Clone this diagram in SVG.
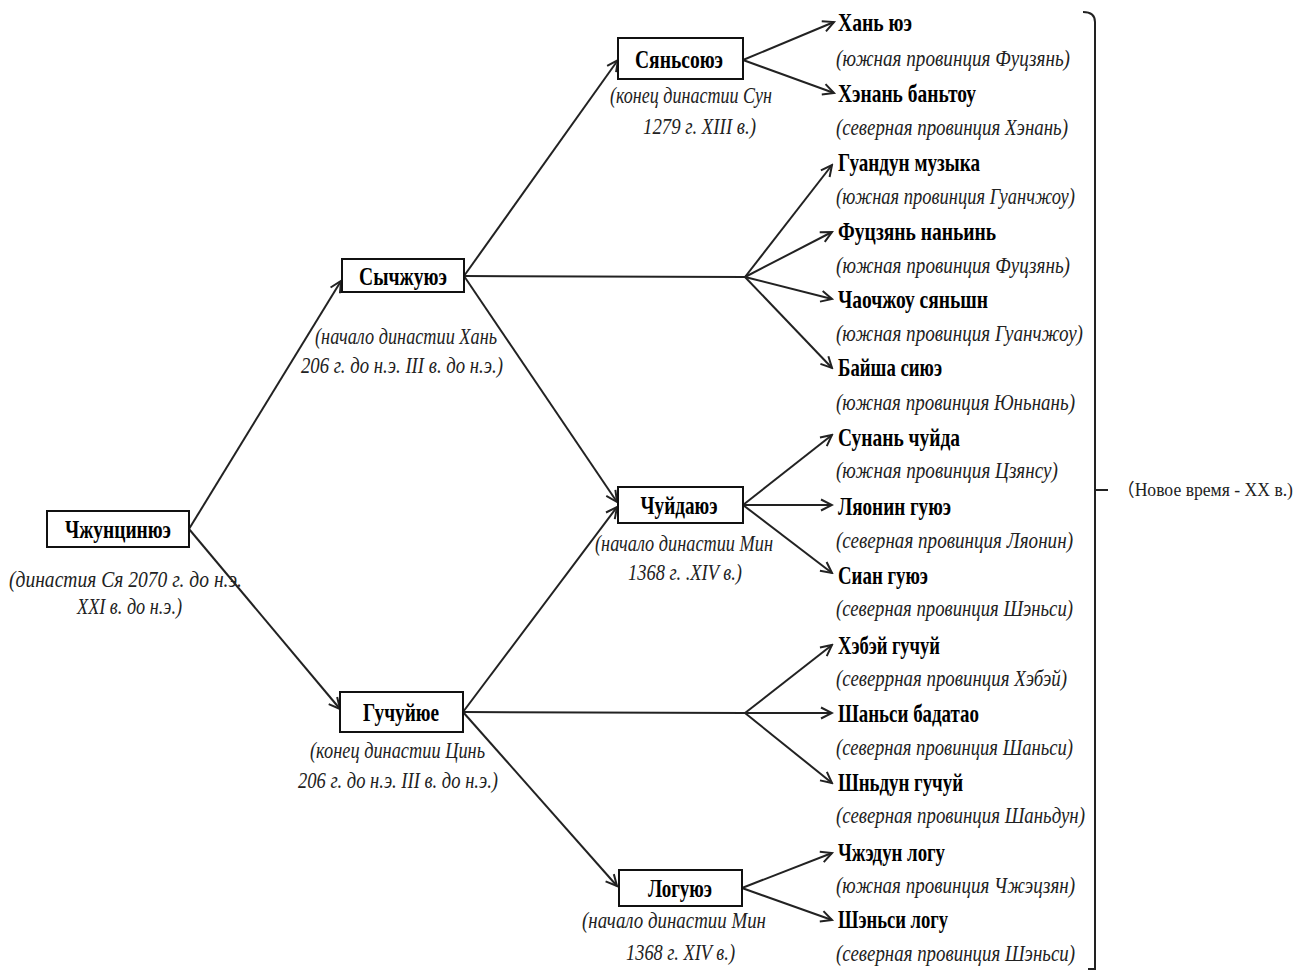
<svg xmlns="http://www.w3.org/2000/svg" width="1309" height="972" viewBox="0 0 1309 972">
<style>
.box{fill:#fff;stroke:#111;stroke-width:2}
.nl{font-family:"Liberation Serif","Times New Roman",serif;font-weight:bold;font-size:26px;fill:#000;dominant-baseline:central}
.cap{font-family:"Liberation Serif","Times New Roman",serif;font-style:italic;font-size:23px;fill:#222;dominant-baseline:central}
.mid{text-anchor:middle}
.ln{stroke:#222;stroke-width:2;fill:none}
.arr{marker-end:url(#ah)}
.note{font-family:"Liberation Serif","Noto Sans CJK SC",serif;font-size:18px;fill:#222;dominant-baseline:central}
</style>
<defs>
<marker id="ah" markerUnits="userSpaceOnUse" markerWidth="14" markerHeight="14" viewBox="0 0 14 14" refX="12" refY="7" orient="auto">
<path d="M1,1.5 L12,7 L1,12.5" fill="none" stroke="#222" stroke-width="2"/>
</marker>
</defs>
<rect width="1309" height="972" fill="#fff"/>

<g id="connectors">
<line class="ln arr" x1="189" y1="529" x2="341" y2="281"/>
<line class="ln arr" x1="189" y1="529" x2="340" y2="709"/>
<line class="ln arr" x1="464" y1="276" x2="618" y2="60"/>
<line class="ln" x1="464" y1="276" x2="745" y2="277"/>
<line class="ln arr" x1="464" y1="276" x2="617" y2="502"/>
<line class="ln arr" x1="463" y1="712" x2="617" y2="507"/>
<line class="ln" x1="463" y1="712" x2="745" y2="713"/>
<line class="ln arr" x1="463" y1="712" x2="617" y2="886"/>
<line class="ln arr" x1="743" y1="60" x2="834" y2="22"/>
<line class="ln arr" x1="743" y1="60" x2="834" y2="93"/>
<line class="ln arr" x1="745" y1="277" x2="832" y2="165"/>
<line class="ln arr" x1="745" y1="277" x2="832" y2="232"/>
<line class="ln arr" x1="745" y1="277" x2="832" y2="299"/>
<line class="ln arr" x1="745" y1="277" x2="832" y2="368"/>
<line class="ln arr" x1="743" y1="505" x2="832" y2="435"/>
<line class="ln arr" x1="743" y1="505" x2="832" y2="505"/>
<line class="ln arr" x1="743" y1="505" x2="832" y2="573"/>
<line class="ln arr" x1="745" y1="713" x2="832" y2="645"/>
<line class="ln arr" x1="745" y1="713" x2="832" y2="713"/>
<line class="ln arr" x1="745" y1="713" x2="832" y2="783"/>
<line class="ln arr" x1="742" y1="888" x2="832" y2="853"/>
<line class="ln arr" x1="742" y1="888" x2="832" y2="920"/>
</g>

<g id="n-root">
<rect class="box" x="47" y="511" width="142" height="36"/>
<text class="nl mid" x="118" y="529" textLength="106" lengthAdjust="spacingAndGlyphs">Чжунцинюэ</text>
<text class="cap" x="9" y="579" textLength="233" lengthAdjust="spacingAndGlyphs">(династия Ся  2070 г. до н.э.</text>
<text class="cap" x="77" y="606" textLength="105" lengthAdjust="spacingAndGlyphs">XXI в. до н.э.)</text>
</g>

<g id="n-sychzhuyuz">
<rect class="box" x="342" y="259" width="122" height="33"/>
<text class="nl mid" x="403" y="276" textLength="88" lengthAdjust="spacingAndGlyphs">Сычжуюэ</text>
<text class="cap" x="315" y="336" textLength="182" lengthAdjust="spacingAndGlyphs">(начало династии Хань</text>
<text class="cap" x="301" y="365" textLength="202" lengthAdjust="spacingAndGlyphs">206 г. до н.э.  III в. до н.э.)</text>
</g>

<g id="n-syansoyuz">
<rect class="box" x="618" y="38" width="125" height="41"/>
<text class="nl mid" x="679" y="59" textLength="88" lengthAdjust="spacingAndGlyphs">Сяньсоюэ</text>
<text class="cap" x="610" y="95" textLength="162" lengthAdjust="spacingAndGlyphs">(конец династии Сун</text>
<text class="cap" x="643" y="126" textLength="113" lengthAdjust="spacingAndGlyphs">1279 г. XIII в.)</text>
</g>

<g id="n-chuidauz">
<rect class="box" x="618" y="487" width="125" height="36"/>
<text class="nl mid" x="679" y="505" textLength="77" lengthAdjust="spacingAndGlyphs">Чуйдаюэ</text>
<text class="cap" x="595" y="543" textLength="178" lengthAdjust="spacingAndGlyphs">(начало династии Мин</text>
<text class="cap" x="628" y="572" textLength="114" lengthAdjust="spacingAndGlyphs">1368 г. .XIV в.)</text>
</g>

<g id="n-guchuyue">
<rect class="box" x="340" y="692" width="123" height="40"/>
<text class="nl mid" x="401" y="712" textLength="76" lengthAdjust="spacingAndGlyphs">Гучуйюе</text>
<text class="cap" x="310" y="750" textLength="175" lengthAdjust="spacingAndGlyphs">(конец династии Цинь</text>
<text class="cap" x="298" y="780" textLength="200" lengthAdjust="spacingAndGlyphs">206 г. до н.э. III в. до н.э.)</text>
</g>

<g id="n-loguyuz">
<rect class="box" x="619" y="870" width="123" height="36"/>
<text class="nl mid" x="680" y="888" textLength="64" lengthAdjust="spacingAndGlyphs">Логуюэ</text>
<text class="cap" x="582" y="920" textLength="184" lengthAdjust="spacingAndGlyphs">(начало династии Мин</text>
<text class="cap" x="626" y="952" textLength="109" lengthAdjust="spacingAndGlyphs">1368 г. XIV в.)</text>
</g>

<g id="leaf-1">
<text class="nl" x="838" y="22" textLength="74" lengthAdjust="spacingAndGlyphs">Хань юэ</text>
<text class="cap" x="836" y="58" textLength="234" lengthAdjust="spacingAndGlyphs">(южная провинция Фуцзянь)</text>
</g>
<g id="leaf-2">
<text class="nl" x="838" y="93" textLength="138" lengthAdjust="spacingAndGlyphs">Хэнань баньтоу</text>
<text class="cap" x="836" y="127" textLength="232" lengthAdjust="spacingAndGlyphs">(северная провинция Хэнань)</text>
</g>
<g id="leaf-3">
<text class="nl" x="838" y="162" textLength="142" lengthAdjust="spacingAndGlyphs">Гуандун музыка</text>
<text class="cap" x="836" y="196" textLength="239" lengthAdjust="spacingAndGlyphs">(южная провинция Гуанчжоу)</text>
</g>
<g id="leaf-4">
<text class="nl" x="838" y="231" textLength="158" lengthAdjust="spacingAndGlyphs">Фуцзянь наньинь</text>
<text class="cap" x="836" y="265" textLength="234" lengthAdjust="spacingAndGlyphs">(южная провинция Фуцзянь)</text>
</g>
<g id="leaf-5">
<text class="nl" x="838" y="299" textLength="150" lengthAdjust="spacingAndGlyphs">Чаочжоу сяньшн</text>
<text class="cap" x="836" y="333" textLength="247" lengthAdjust="spacingAndGlyphs">(южная провинция Гуанчжоу)</text>
</g>
<g id="leaf-6">
<text class="nl" x="838" y="367" textLength="104" lengthAdjust="spacingAndGlyphs">Байша сиюэ</text>
<text class="cap" x="836" y="402" textLength="239" lengthAdjust="spacingAndGlyphs">(южная провинция Юньнань)</text>
</g>
<g id="leaf-7">
<text class="nl" x="838" y="437" textLength="122" lengthAdjust="spacingAndGlyphs">Сунань чуйда</text>
<text class="cap" x="836" y="470" textLength="222" lengthAdjust="spacingAndGlyphs">(южная провинция Цзянсу)</text>
</g>
<g id="leaf-8">
<text class="nl" x="838" y="506" textLength="113" lengthAdjust="spacingAndGlyphs">Ляонин гуюэ</text>
<text class="cap" x="836" y="540" textLength="237" lengthAdjust="spacingAndGlyphs">(северная провинция Ляонин)</text>
</g>
<g id="leaf-9">
<text class="nl" x="838" y="575" textLength="90" lengthAdjust="spacingAndGlyphs">Сиан гуюэ</text>
<text class="cap" x="836" y="608" textLength="237" lengthAdjust="spacingAndGlyphs">(северная провинция Шэньси)</text>
</g>
<g id="leaf-10">
<text class="nl" x="838" y="645" textLength="102" lengthAdjust="spacingAndGlyphs">Хэбэй гучуй</text>
<text class="cap" x="836" y="678" textLength="231" lengthAdjust="spacingAndGlyphs">(северрная провинция Хэбэй)</text>
</g>
<g id="leaf-11">
<text class="nl" x="838" y="713" textLength="141" lengthAdjust="spacingAndGlyphs">Шаньси бадатао</text>
<text class="cap" x="836" y="747" textLength="237" lengthAdjust="spacingAndGlyphs">(северная провинция Шаньси)</text>
</g>
<g id="leaf-12">
<text class="nl" x="838" y="782" textLength="125" lengthAdjust="spacingAndGlyphs">Шньдун гучуй</text>
<text class="cap" x="836" y="815" textLength="249" lengthAdjust="spacingAndGlyphs">(северная провинция Шаньдун)</text>
</g>
<g id="leaf-13">
<text class="nl" x="838" y="852" textLength="107" lengthAdjust="spacingAndGlyphs">Чжэдун логу</text>
<text class="cap" x="836" y="885" textLength="239" lengthAdjust="spacingAndGlyphs">(южная провинция Чжэцзян)</text>
</g>
<g id="leaf-14">
<text class="nl" x="838" y="919" textLength="110" lengthAdjust="spacingAndGlyphs">Шэньси логу</text>
<text class="cap" x="836" y="953" textLength="239" lengthAdjust="spacingAndGlyphs">(северная провинция Шэньси)</text>
</g>

<g id="bracket">
<path d="M1083,12 Q1095,12 1095,22 L1095,969 L1088,969" fill="none" stroke="#222" stroke-width="2"/>
<line x1="1095" y1="490" x2="1108" y2="490" stroke="#222" stroke-width="2"/>
<text class="note" x="1117" y="490" textLength="176" lengthAdjust="spacingAndGlyphs">（Новое время - XX в.)</text>
</g>
</svg>
